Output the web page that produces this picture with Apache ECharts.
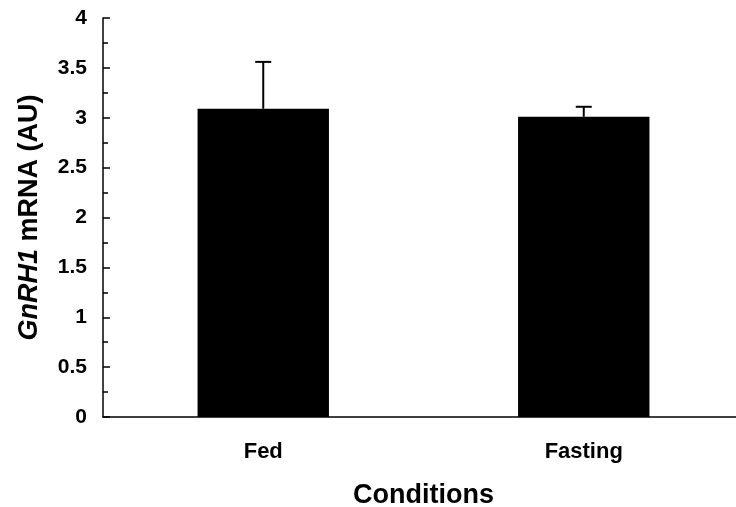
<!DOCTYPE html>
<html>
<head>
<meta charset="utf-8">
<script src="https://cdn.jsdelivr.net/npm/echarts@6/dist/echarts.min.js"></script>
<style>
html,body{margin:0;padding:0;background:#fff;}
#chart{width:736px;height:507px;}
</style>
</head>
<body>
<div id="chart"></div>
<script>
var categories = ['Fed', 'Fasting'];
var means = [3.09, 3.01];
var errors = [0.47, 0.10];
var yTicks = [0, 0.5, 1, 1.5, 2, 2.5, 3, 3.5, 4];

var FONT = '"Liberation Sans", Arial, sans-serif';
var chart = echarts.init(document.getElementById('chart'));

var errData = categories.map(function (c, i) { return [i, means[i], means[i] + errors[i]]; });

chart.setOption({
  animation: false,
  backgroundColor: '#fff',
  grid: { left: 103, top: 18, height: 399, width: 641, containLabel: false, outerBoundsMode: 'none' },
  xAxis: {
    type: 'category',
    data: categories,
    axisLine: { lineStyle: { color: '#000', width: 1.5 } },
    axisTick: { show: false },
    axisLabel: { color: '#000', fontFamily: FONT, fontWeight: 'bold', fontSize: 22, margin: 24 },
    name: 'Conditions',
    nameLocation: 'middle',
    nameGap: 65,
    nameTextStyle: { color: '#000', fontFamily: FONT, fontWeight: 'bold', fontSize: 27 }
  },
  yAxis: {
    type: 'value',
    min: yTicks[0],
    max: yTicks[yTicks.length - 1],
    interval: 0.5,
    splitLine: { show: false },
    axisLine: { show: true, lineStyle: { color: '#000', width: 1.5 } },
    axisTick: { show: true, inside: true, length: 7, lineStyle: { color: '#000', width: 1.5 } },
    minorTick: { show: true, splitNumber: 2, length: 5, lineStyle: { color: '#000', width: 1.5 } },
    axisLabel: { color: '#000', fontFamily: FONT, fontWeight: 'bold', fontSize: 21, margin: 16 },
    name: '{i|GnRH1} mRNA (AU)',
    nameLocation: 'middle',
    nameGap: 60,
    nameTextStyle: {
      color: '#000', fontFamily: FONT, fontWeight: 'bold', fontSize: 27,
      rich: { i: { fontStyle: 'italic', fontWeight: 'bold', fontFamily: FONT, fontSize: 27, color: '#000' } }
    }
  },
  series: [
    {
      type: 'bar',
      data: means,
      barWidth: '41%',
      itemStyle: { color: '#000' },
      z: 2
    },
    {
      type: 'custom',
      data: errData,
      z: 3,
      renderItem: function (params, api) {
        var x = api.value(0);
        var top = api.coord([x, api.value(2)]);
        var base = api.coord([x, api.value(1)]);
        var half = 8;
        var style = { stroke: '#000', lineWidth: 2 };
        return {
          type: 'group',
          children: [
            { type: 'line', shape: { x1: top[0], y1: base[1], x2: top[0], y2: top[1] }, style: style },
            { type: 'line', shape: { x1: top[0] - half, y1: top[1], x2: top[0] + half, y2: top[1] }, style: style }
          ]
        };
      }
    }
  ]
});
</script>
</body>
</html>
